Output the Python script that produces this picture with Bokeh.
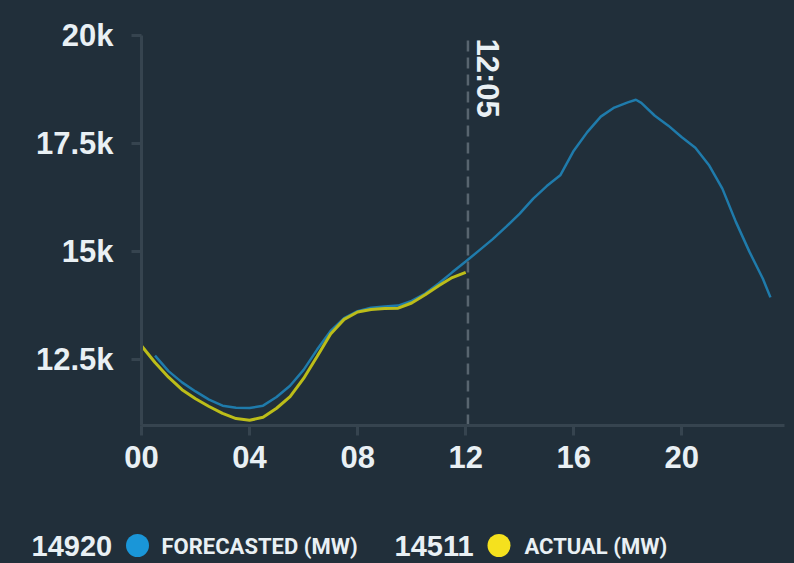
import math
from bokeh.plotting import figure
from bokeh.models import Range1d, FixedTicker, Label
from bokeh.core.properties import value
from bokeh.embed import file_html
from bokeh.resources import INLINE

# ---------------- data ----------------
forecast_hours = [0.5, 1.0, 1.5, 2.0, 2.5, 3.0, 3.5, 4.0, 4.5, 5.0, 5.5, 6.0, 6.5, 7.0, 7.5,
                  8.0, 8.5, 9.0, 9.5, 10.0, 10.5, 11.0, 11.5, 12.0, 12.5, 13.0, 13.5, 14.0,
                  14.5, 15.0, 15.5, 16.0, 16.5, 17.0, 17.5, 18.0, 18.3, 18.5, 19.0, 19.5,
                  20.0, 20.5, 21.0, 21.5, 22.0, 22.5, 23.0, 23.28]
forecast_mw = [12580, 12220, 11960, 11750, 11560, 11420, 11370, 11365, 11420, 11620, 11880,
               12250, 12720, 13150, 13450, 13610, 13690, 13720, 13740, 13850, 14020, 14250,
               14510, 14760, 15020, 15280, 15570, 15870, 16220, 16510, 16760, 17330, 17760,
               18120, 18330, 18450, 18510, 18440, 18140, 17910, 17640, 17400, 17000, 16450,
               15680, 14990, 14360, 13930]

actual_hours = [0.0, 0.5, 1.0, 1.5, 2.0, 2.5, 3.0, 3.5, 4.0, 4.5, 5.0, 5.5, 6.0, 6.5, 7.0,
                7.5, 8.0, 8.5, 9.0, 9.5, 10.0, 10.5, 11.0, 11.5, 12.0]
actual_mw = [12810, 12420, 12080, 11790, 11580, 11400, 11240, 11120, 11080, 11150, 11360,
             11630, 12050, 12560, 13080, 13420, 13590, 13650, 13670, 13680, 13800, 13990,
             14200, 14390, 14511]

x_ticks = [0, 4, 8, 12, 16, 20]
x_tick_labels = ["00", "04", "08", "12", "16", "20"]
y_ticks = [12500, 15000, 17500, 20000]
y_tick_labels = ["12.5k", "15k", "17.5k", "20k"]

now_hour = 12 + 5 / 60
now_label = "12:05"
current_values = ["14920", "14511"]
series_names = ["FORECASTED (MW)", "ACTUAL (MW)"]

# ---------------- style ----------------
BG = "#212f3a"
AXIS = "#36444f"
TEXT = "#e9f0f4"
BLUE_LINE = "#1f7bab"
YELLOW_LINE = "#bcbd19"
DOT_COLORS = ["#1a96d8", "#f5e11e"]
BOLD_FONT = "Liberation Sans"
SMALL_FONT = "Roboto"

W, H = 794, 562
# chart box in pixels (axis corner and extents)
AX_LEFT, AX_RIGHT, AX_TOP, AX_BOTTOM = 141, 784, 35, 425
X_MIN, X_MAX = 0, 23.8
Y_MIN, Y_MAX = 10960, 20000
PX_X = (X_MAX - X_MIN) / (AX_RIGHT - AX_LEFT)
PX_Y = (Y_MAX - Y_MIN) / (AX_BOTTOM - AX_TOP)


def dx(px):
    return X_MIN + (px - AX_LEFT) * PX_X


def dy(py):
    return Y_MAX - (py - AX_TOP) * PX_Y


p = figure(width=W, height=H, output_backend="svg", toolbar_location=None,
           x_range=Range1d(dx(0), dx(W)), y_range=Range1d(dy(H), dy(0)),
           min_border=0)
p.background_fill_color = None
p.border_fill_color = None
p.outline_line_color = None
p.grid.visible = False

for ax in (p.xaxis[0], p.yaxis[0]):
    ax.axis_line_color = AXIS
    ax.axis_line_width = 3
    ax.major_tick_line_color = AXIS
    ax.major_tick_line_width = 3
    ax.major_tick_out = 10
    ax.major_tick_in = 0
    ax.minor_tick_line_color = None
    ax.major_label_text_color = TEXT
    ax.major_label_text_font = BOLD_FONT
    ax.major_label_text_font_style = "bold"
    ax.major_label_text_font_size = "31px"

p.xaxis[0].fixed_location = Y_MIN
p.xaxis[0].bounds = (X_MIN, X_MAX)
p.xaxis[0].ticker = FixedTicker(ticks=x_ticks)
p.xaxis[0].major_label_overrides = dict(zip(x_ticks, x_tick_labels))
p.xaxis[0].major_label_standoff = 10
p.yaxis[0].fixed_location = X_MIN
p.yaxis[0].bounds = (Y_MIN, Y_MAX)
p.yaxis[0].ticker = FixedTicker(ticks=y_ticks)
p.yaxis[0].major_label_overrides = dict(zip(y_ticks, y_tick_labels))
p.yaxis[0].major_label_standoff = 18

p.line(forecast_hours, forecast_mw, line_color=BLUE_LINE, line_width=2.5)
p.line(actual_hours, actual_mw, line_color=YELLOW_LINE, line_width=3)

# current-time marker
p.segment(x0=[now_hour], y0=[Y_MIN], x1=[now_hour], y1=[Y_MAX], line_color="#58656f",
          line_width=2.5, line_dash="11 6")
p.add_layout(Label(x=now_hour, y=Y_MAX, text=now_label, angle=-math.pi / 2,
                   x_offset=2, y_offset=-3, text_align="left", text_baseline="bottom",
                   text_color=TEXT, text_font=BOLD_FONT, text_font_style="bold",
                   text_font_size="31px"))

# ---------------- legend strip ----------------
LEG_Y = dy(545)
p.text(x=[dx(31), dx(394)], y=[LEG_Y, LEG_Y], text=current_values,
       text_color=TEXT, text_font=value(BOLD_FONT), text_font_style="bold",
       text_font_size="29px", text_baseline="middle", text_align="left")
p.scatter(x=[dx(137), dx(498.5)], y=[LEG_Y, LEG_Y], size=23, marker="circle",
          fill_color=DOT_COLORS, line_color=None)
p.text(x=[dx(161), dx(524)], y=[dy(546), dy(546)], text=series_names,
       text_color=TEXT, text_font=value(SMALL_FONT), text_font_style="bold",
       text_font_size="22px", text_baseline="middle", text_align="left")

html = file_html(p, INLINE)
html = html.replace("</head>", "<style>html, body { background: %s; }</style></head>" % BG, 1)
open("out.html", "w").write(html)
